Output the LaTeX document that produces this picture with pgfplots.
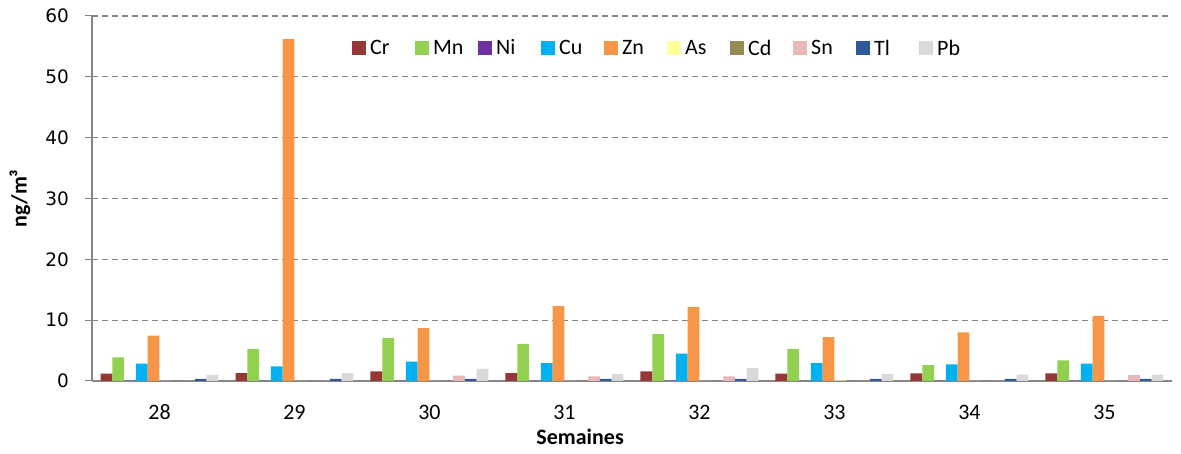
\documentclass[border=0pt]{standalone}
\usepackage{pgfplots}
\pgfplotsset{compat=1.18}
\usepackage{fontspec}
\setmainfont{Carlito}
\newfontfamily\dejavu{DejaVu Sans}

\definecolor{cCr}{HTML}{953735}
\definecolor{cMn}{HTML}{92D050}
\definecolor{cNi}{HTML}{7030A0}
\definecolor{cCu}{HTML}{00B0F0}
\definecolor{cZn}{HTML}{F79646}
\definecolor{cAs}{HTML}{FFFF99}
\definecolor{cCd}{HTML}{948A54}
\definecolor{cSn}{HTML}{E6B9B8}
\definecolor{cTl}{HTML}{2F5A9A}
\definecolor{cPb}{HTML}{D9D9D9}
\definecolor{axgray}{HTML}{868686}

% semaine, puis une colonne par element (ng/m3)
\pgfplotstableread{
x  Cr   Mn  Ni  Cu    Zn    As   Cd  Sn    Tl    Pb
0  1.2  3.9 0   2.85  7.45  0    0   0     0.35  1.0
1  1.3  5.3 0   2.4   56.2  0    0   0     0.35  1.3
2  1.6  7.1 0   3.2   8.7   0    0   0.9   0.35  2.0
3  1.3  6.1 0   2.95  12.3  0    0   0.75  0.35  1.15
4  1.6  7.7 0   4.5   12.2  0    0   0.75  0.35  2.1
5  1.2  5.3 0   2.95  7.2   0.1  0   0     0.35  1.15
6  1.25 2.6 0   2.75  8.0   0    0   0     0.35  1.05
7  1.25 3.4 0   2.85  10.7  0    0   0.95  0.35  1.05
}\datatable

% pas de contour : une barre nulle reste invisible
\pgfplotsset{
  elem/.style={fill=#1, draw=none},
}

\begin{document}
\begin{tikzpicture}
\path[use as bounding box] (-92pt,-73pt) rectangle (1089pt,381pt);
\begin{axis}[
  scale only axis,
  width=1080pt, height=365pt,
  font=\fontsize{22}{26}\selectfont,
  ybar=0pt,
  bar width=0.0874,
  xmin=-0.5, xmax=7.5,
  ymin=0, ymax=60,
  ytick={0,10,...,60},
  xtick={0,...,7},
  xticklabels={28,29,30,31,32,33,34,35},
  major x tick style={draw=none},
  extra x ticks={-0.5,0.5,...,7.5},
  extra x tick labels={},
  extra x tick style={tick align=outside, major tick length=8pt,
    major tick style={draw=axgray, line width=1pt}, grid=none},
  ytick align=outside,
  major tick length=7pt,
  ytick style={draw=axgray, line width=1pt},
  axis x line*=bottom,
  axis y line*=left,
  axis line style={draw=axgray, line width=1.2pt},
  ymajorgrids=true,
  grid style={draw=axgray, dash pattern=on 6pt off 4pt, line width=1.2pt},
  /pgf/number format/assume math mode=true,
  yticklabel style={font=\dejavu\fontsize{18.5}{20}\selectfont, anchor=east, inner sep=0pt, xshift=-16pt},
  xticklabel style={anchor=center, yshift=-24pt},
  xlabel={\bfseries Semaines},
  xlabel style={at={(axis description cs:0.452,0)}, anchor=center, yshift=-56pt},
  ylabel={\bfseries ng/m³},
  ylabel style={at={(axis description cs:-0.0667,0.5)}, anchor=center},
  legend columns=10,
  legend style={draw=none, fill=none, inner sep=0pt,
    at={(rel axis cs:0.2407,0.912)}, anchor=west,
    /tikz/column sep=4pt,
    nodes={text width=41pt, align=left, inner sep=0pt, xshift=4pt}},
  legend image code/.code={\fill[#1] (0pt,-7pt) rectangle (14pt,7pt);},
]
\addplot[elem=cCr] table[x=x,y=Cr] {\datatable};
\addlegendentry{Cr}
\addplot[elem=cMn] table[x=x,y=Mn] {\datatable};
\addlegendentry{Mn}
\addplot[elem=cNi] table[x=x,y=Ni] {\datatable};
\addlegendentry{Ni}
\addplot[elem=cCu] table[x=x,y=Cu] {\datatable};
\addlegendentry{Cu}
\addplot[elem=cZn] table[x=x,y=Zn] {\datatable};
\addlegendentry{Zn}
\addplot[elem=cAs] table[x=x,y=As] {\datatable};
\addlegendentry{As}
\addplot[elem=cCd] table[x=x,y=Cd] {\datatable};
\addlegendentry{Cd}
\addplot[elem=cSn] table[x=x,y=Sn] {\datatable};
\addlegendentry{Sn}
\addplot[elem=cTl] table[x=x,y=Tl] {\datatable};
\addlegendentry{Tl}
\addplot[elem=cPb] table[x=x,y=Pb] {\datatable};
\addlegendentry{Pb}
\end{axis}
\end{tikzpicture}
\end{document}
